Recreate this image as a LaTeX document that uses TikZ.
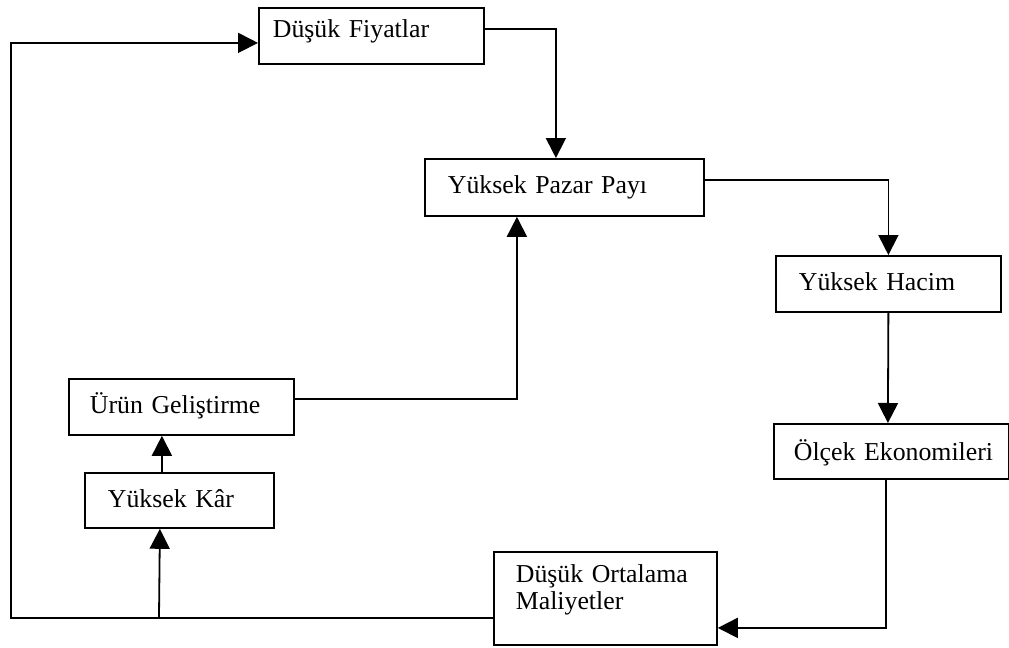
\documentclass[tikz,border=0pt]{standalone}
\usepackage{fontspec}
\setmainfont{Liberation Serif}
\usepackage{tikz}
\usetikzlibrary{arrows.meta, positioning}

\begin{document}
\begin{tikzpicture}[
    x=0.5pt, y=-0.5pt,
    box/.style={rectangle, draw=black, fill=white, line width=0.9pt, anchor=north west, align=left, inner xsep=11pt, inner ysep=0pt, text height=17.5pt, font=\fontsize{12.9}{13.2}\selectfont},
    flow/.style={-{Triangle[length=10pt, width=10pt]}, line width=0.9pt, draw=black}
]
    \useasboundingbox (0,0) rectangle (1009,648);

    % --- Boxes ---
    \node[box, inner xsep=7pt, text width=98.5pt, text height=15pt, text depth=13pt] (dusuk) at (258,7) {Düşük Fiyatlar};
    \node[box, inner xsep=11.5pt, text width=116.5pt, text depth=11pt] (pazar) at (424,158) {Yüksek Pazar Payı};
    \node[box, inner xsep=11.5pt, text width=89.5pt, text depth=10.5pt] (hacim) at (775,255) {Yüksek Hacim};
    \node[box, inner xsep=10pt, text width=97.5pt, text height=18.5pt, text depth=9pt] (olcek) at (773,423) {\mbox{Ölçek Ekonomileri}};
    \node[box, text width=89.5pt, text height=15.5pt, text depth=31pt] (maliyet) at (493,551) {\mbox{Düşük Ortalama}\\Maliyetler};
    \node[box, inner xsep=10.5pt, text width=91.5pt, text depth=10.5pt] (urun) at (68,378) {Ürün Geliştirme};
    \node[box, inner xsep=11.5pt, text width=71.5pt, text depth=10pt] (kar) at (84,472) {Yüksek Kâr};

    % --- Helper points on the outer loop ---
    \coordinate (rail) at (11,300);
    \coordinate (fork) at (159,617);

    % --- Main cycle ---
    \draw[flow] ([yshift=3.5pt]dusuk.east) -| ([xshift=-4.25pt]pazar.north);
    \draw[flow] ([yshift=3.75pt]pazar.east) -| (hacim.north);
    \draw[flow] (hacim.south) -- ([xshift=-1.75pt]olcek.north);
    \draw[flow] ([xshift=-2.75pt]olcek.south) |- ([yshift=-14.75pt]maliyet.east);
    \draw[flow] ([yshift=-9.75pt]maliyet.west) -| (rail) |- ([yshift=-3.5pt]dusuk.west); % back to top

    % --- Profit branch ---
    \draw[flow] (fork) -- ([xshift=-9.75pt]kar.south);
    \draw[flow] ([xshift=-8.75pt]kar.north) -- ([xshift=-9.75pt]urun.south);
    \draw[flow] ([yshift=4pt]urun.east) -| ([xshift=-23.75pt]pazar.south);

\end{tikzpicture}
\end{document}
